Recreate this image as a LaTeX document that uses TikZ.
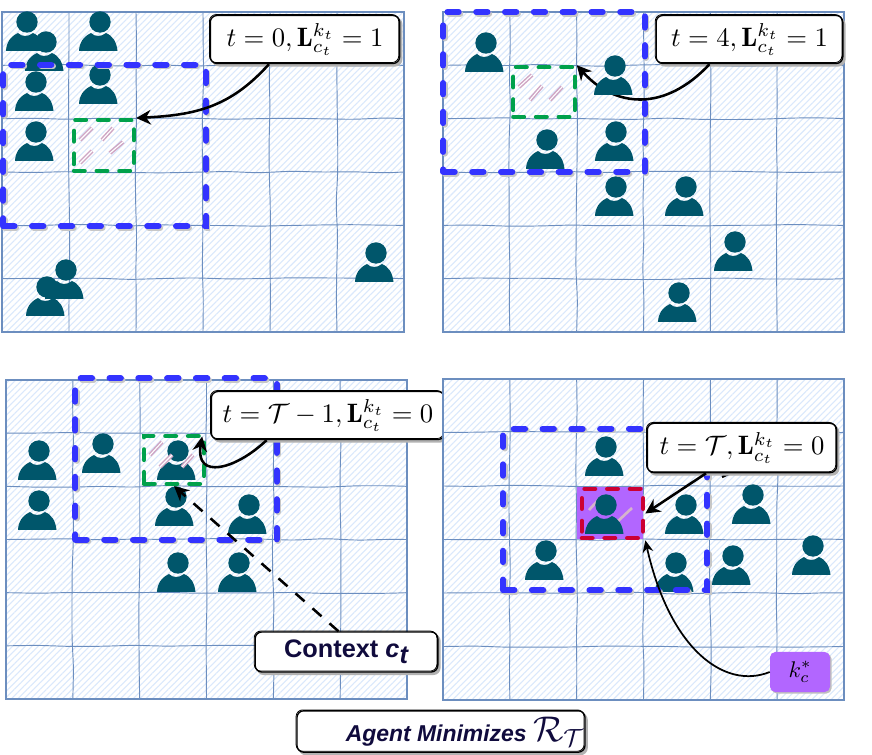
\documentclass[tikz,border=0pt]{standalone}
\usepackage{amsmath}
\usepackage{graphicx}
\usepackage{fontspec}
\usetikzlibrary{arrows.meta,patterns.meta,decorations.pathmorphing}
\newfontfamily\labelfont{Liberation Sans}
\definecolor{gridblue}{HTML}{6C8EBF}
\definecolor{hatchblue}{HTML}{DAE8FC}
\definecolor{persontone}{HTML}{00566B}
\definecolor{windowblue}{HTML}{3333FF}
\definecolor{cellgreen}{HTML}{00A14B}
\definecolor{cellpink}{HTML}{CFA6C4}
\definecolor{cellpurple}{HTML}{B266FF}
\definecolor{cellred}{HTML}{CC0033}
\definecolor{labelink}{HTML}{100B3D}
\tikzset{
    gridline/.style={draw=gridblue, line width=0.7pt, rounded corners=6pt, decorate, decoration={random steps, segment length=24pt, amplitude=0.7pt}},
    window/.style={rectangle, inner sep=0pt, draw=windowblue, line width=4.4pt, line cap=round, dash pattern=on 8.6pt off 13pt,
        preaction={draw=black!22, line width=4.4pt, line cap=round, dash pattern=on 8.6pt off 13pt, transform canvas={xshift=1.2pt,yshift=-1.2pt}}},
    cellmark/.style={rectangle, inner sep=0pt, line width=3.2pt, line cap=round, dash pattern=on 8pt off 9pt},
    sketchlabel/.style={rectangle, draw=black, line width=1pt, fill=white, rounded corners=5pt, inner sep=0pt, align=center,
        preaction={draw=black!30, fill=black!30, line width=1pt, transform canvas={xshift=1.6pt,yshift=-1.8pt}},
        postaction={draw=black, line width=0.6pt, transform canvas={xshift=-0.7pt,yshift=0.7pt}}},
    flowarrow/.style={draw=black, line width=1.9pt, -{Stealth[length=11pt,width=11pt]}},
    pinkstroke/.style={draw=cellpink, line width=1.1pt},
    person/.pic={
        \fill[persontone] (0,0) circle (10.7);
        \fill[persontone] (-21,29) .. controls (-20.5,20) and (-17,15) .. (-9,11)
            .. controls (-5,15) and (1,15) .. (6,11) .. controls (13,14) and (16.5,20) .. (17.5,29) -- cycle;
    }
}
\newcommand{\gridpanel}[4]{
    \fill[white] (#1,#2) rectangle (#3,#4);
    \fill[pattern={Lines[angle=45,distance=3.4pt,line width=0.8pt]}, pattern color=hatchblue] (#1,#2) rectangle (#3,#4);
    \foreach \k in {1,...,5} {
        \pgfmathsetmacro{\gx}{#1+\k*(#3-#1)/6}
        \pgfmathsetmacro{\gy}{#2+\k*(#4-#2)/6}
        \draw[gridline] (\gx,#2) -- (\gx,#4);
        \draw[gridline] (#1,\gy) -- (#3,\gy);
    }
    \draw[gridblue, line width=0.8pt] (#1,#2) rectangle (#3,#4);
}
\newcommand{\lbltext}[1]{\scalebox{2}{$#1$}}
\pgfmathsetseed{11}

\begin{document}
\begin{tikzpicture}[x=0.75pt, y=-0.75pt]
    \useasboundingbox (0,0) rectangle (872,755);

    % top left
    \gridpanel{2}{12}{404}{332}
    \foreach \px/\py in {27/22, 100/22, 46/42, 36/82, 100/75, 36/132, 66/270, 47/287, 376/253}
        \pic at (\px,\py) {person};
    \draw[pinkstroke, double distance=0.8pt] (80,140) -- (92,128) (102,140) -- (113,128) (110,153) -- (123,142) (80,163) -- (92,151);
    \node at (104,145.5) [cellmark, draw=cellgreen, minimum width=45pt, minimum height=38pt] (cellA) {};
    \node at (104.5,145.5) [window, minimum width=152pt, minimum height=121pt] (windowA) {};
    \node at (305,39.5) [sketchlabel, minimum width=142pt, minimum height=36pt] (labelA) {\lbltext{t=0,\mathbf{L}_{c_t}^{k_t}=1}};
    \draw[flowarrow] ([xshift=-27pt]labelA.south) to[out=-132,in=3,looseness=1.05] (cellA.north east);

    % top right
    \gridpanel{443}{12}{844}{332}
    \foreach \px/\py in {486/43, 547/140, 616/132, 616/187, 686/187, 735/242, 679/293}
        \pic at (\px,\py) {person};
    \draw[pinkstroke, double distance=0.8pt] (519,87) -- (532,75) (530,100) -- (542,86) (550,100) -- (562,87);
    \node at (544,92) [cellmark, draw=cellgreen, minimum width=46pt, minimum height=37pt] (cellB) {};
    \node at (544,92) [window, minimum width=151pt, minimum height=120pt] (windowB) {};
    \node at (749.5,39.5) [sketchlabel, minimum width=140pt, minimum height=36pt] (labelB) {\lbltext{t=4,\mathbf{L}_{c_t}^{k_t}=1}};
    \draw[flowarrow] ([xshift=-30pt]labelB.south) .. controls (665,112) and (615,108) .. (cellB.north east);
    \pic at (615,66) {person};

    % bottom left
    \gridpanel{6}{380}{407}{699}
    \foreach \px/\py in {39/451, 39/501, 103/444, 178/451, 176/497, 249/505, 178/563, 239/563}
        \pic at (\px,\py) {person};
    \draw[pinkstroke, double distance=0.8pt] (150,455) -- (162,442) (160,467) -- (172,455) (182,467) -- (193,455);
    \node at (174,460) [cellmark, draw=cellgreen, minimum width=45pt, minimum height=36pt] (cellC) {};
    \node at (176,459) [window, minimum width=151pt, minimum height=121pt] (windowC) {};
    \node at (328,415.5) [sketchlabel, minimum width=175pt, minimum height=36pt] (labelC) {\lbltext{t=\mathcal{T}-1,\mathbf{L}_{c_t}^{k_t}=0}};
    \draw[flowarrow] ([xshift=-46pt]labelC.south) .. controls (235,470) and (195,480) .. ([xshift=-3pt,yshift=-2pt]cellC.north east);
    \node at (346.5,652) [sketchlabel, minimum width=137pt, minimum height=30pt, text=labelink] (labelE) {\labelfont\bfseries\fontsize{19}{21}\selectfont Context \textit{c}\raisebox{-0.25em}{\textit{t}}};
    \draw[flowarrow, dash pattern=on 9pt off 8pt] ([xshift=-6pt]labelE.north) -- (cellC.south);

    % bottom right
    \gridpanel{443}{379}{844}{700}
    \node at (610,513) [rectangle, inner sep=0pt, fill=cellpurple, minimum width=50pt, minimum height=39pt] (bestcell) {};
    \draw[pinkstroke, draw=cellpink!85!white, line width=2pt] (589,510) -- (600,498) (617,522) -- (632,508);
    \foreach \px/\py in {606/447, 606/505, 686/505, 753/495, 546/551, 676/563, 733/556, 813/546}
        \pic at (\px,\py) {person};
    \node at (612.5,513.5) [cellmark, draw=cellred, minimum width=46pt, minimum height=37pt] (cellD) {};
    \node at (605,509.5) [window, minimum width=153pt, minimum height=121pt] (windowD) {};
    \coordinate (stubD) at (722,477);
    \draw[black, line width=1.8pt] (735,471) -- (stubD);
    \node at (742,448) [sketchlabel, minimum width=142pt, minimum height=37pt] (labelD) {\lbltext{t=\mathcal{T},\mathbf{L}_{c_t}^{k_t}=0}};
    \draw[flowarrow] ([xshift=-27pt]labelD.south) -- (cellD.east);
    \node at (800,672) [rectangle, rounded corners=4pt, inner sep=0pt, fill=cellpurple, minimum width=45pt, minimum height=30pt,
        preaction={fill=black!25, transform canvas={xshift=1.2pt,yshift=-1.2pt}}] (kbox) {\scalebox{1.7}{$k_c^*$}};
    \draw[flowarrow, line width=1.3pt, -{Stealth[length=9pt,width=8pt]}] (kbox.west) .. controls (725,690) and (670,650) .. (cellD.south east);

    % caption
    \node at (441,731.5) [sketchlabel, minimum width=216pt, minimum height=31pt, text=labelink] (labelF) {\hspace*{36pt}\labelfont\bfseries\itshape\fontsize{17.2}{20}\selectfont Agent Minimizes \scalebox{1.55}{$\mathcal{R}_{\mathcal{T}}$}};
\end{tikzpicture}
\end{document}
